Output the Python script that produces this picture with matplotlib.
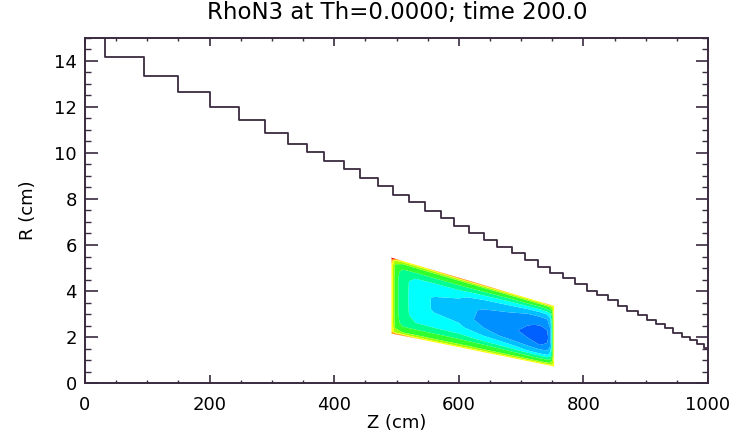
import numpy as np
import matplotlib
matplotlib.use("Agg")
import matplotlib.pyplot as plt
from matplotlib.ticker import MultipleLocator

# ---------------- data ----------------
title = "RhoN3 at Th=0.0000; time 200.0"
x_label = "Z (cm)"
y_label = "R (cm)"

# staircase boundary (step starts, R level after the step)
step_z = [0, 32, 95, 150, 201, 247, 289, 326, 357, 384, 415, 441, 470, 495, 520,
          546, 571, 592, 617, 641, 662, 685, 706, 727, 747, 767, 787, 805, 822,
          840, 856, 870, 887, 902, 917, 931, 944, 958, 971, 982, 994, 1000]
step_r = [15.6, 14.19, 13.36, 12.67, 11.98, 11.43, 10.86, 10.39, 10.03, 9.65, 9.29,
          8.93, 8.57, 8.19, 7.85, 7.48, 7.16, 6.83, 6.51, 6.22, 5.90, 5.64, 5.35,
          5.06, 4.77, 4.55, 4.29, 4.01, 3.83, 3.61, 3.35, 3.14, 2.96, 2.74, 2.57,
          2.38, 2.19, 2.01, 1.87, 1.70, 1.53, 1.53]

# band occupied by the RhoN3 field
band_z = [492, 753]
band_top = [5.45, 3.35]
band_bot = [2.15, 0.72]

# field samples: rows along Z, columns across the band (0 = bottom, 1 = top)
rho_z = [492, 498, 510, 530, 560, 600, 640, 680, 710, 730, 742, 747, 750, 753]
rho_t = [0.0, 0.03, 0.10, 0.17, 0.30, 0.45, 0.60, 0.75, 0.84, 0.91, 0.97, 1.0]
rho_vals = [
    [8.6, 7.9, 7.9, 7.9, 7.9, 7.9, 7.9, 7.9, 7.9, 7.9, 8.8, 9.6],
    [9.2, 6.5, 5.8, 5.5, 5.4, 5.4, 5.4, 5.4, 5.5, 5.8, 6.5, 9.3],
    [9.0, 6.2, 5.2, 4.6, 4.4, 4.4, 4.4, 4.4, 4.6, 5.2, 6.2, 8.0],
    [8.2, 6.2, 5.3, 4.2, 3.6, 3.5, 3.5, 3.6, 4.2, 5.3, 6.2, 7.9],
    [7.9, 6.2, 5.3, 4.2, 3.3, 2.9, 2.9, 3.4, 4.2, 5.3, 6.2, 8.3],
    [7.9, 6.2, 5.3, 4.2, 3.2, 2.6, 2.6, 3.2, 4.2, 5.3, 6.2, 9.2],
    [8.1, 6.2, 5.2, 3.9, 2.3, 1.6, 1.8, 2.6, 3.9, 5.2, 6.2, 9.0],
    [7.9, 6.2, 5.0, 3.5, 1.8, 1.3, 1.5, 2.3, 3.5, 5.0, 6.2, 8.2],
    [8.0, 6.2, 4.8, 3.0, 1.3, 0.7, 1.1, 2.0, 3.2, 4.9, 6.2, 8.0],
    [7.9, 6.2, 4.7, 2.8, 1.0, 0.4, 0.9, 1.9, 3.1, 4.8, 6.2, 8.0],
    [7.9, 6.2, 4.7, 2.9, 1.2, 0.7, 1.1, 2.0, 3.2, 4.9, 6.2, 8.8],
    [7.9, 6.3, 5.0, 3.6, 2.2, 1.8, 2.0, 2.7, 3.8, 5.1, 6.3, 8.2],
    [7.9, 6.7, 5.9, 5.3, 4.8, 4.6, 4.7, 5.0, 5.4, 5.9, 6.7, 7.9],
    [7.8, 7.8, 7.8, 7.8, 7.8, 7.8, 7.8, 7.8, 7.8, 7.8, 7.8, 7.8],
]
rho_levels = [0, 1, 2, 3, 4, 5, 6, 7, 8, 9, 10]
rho_colors = ["#0060ff", "#0090ff", "#00c0ff", "#00ffff", "#00ff90",
              "#30ff30", "#a0ff00", "#ffff00", "#ffa000", "#ff0000"]

x_ticks = [0, 200, 400, 600, 800, 1000]
y_ticks = [0, 2, 4, 6, 8, 10, 12, 14]

# ---------------- figure ----------------
ink = "#3a2a40"
fig = plt.figure(figsize=(7.40, 4.36), dpi=100)
ax = fig.add_axes([85 / 740, 1 - 383 / 436, (708 - 85) / 740, (383 - 38) / 436])

zz = np.asarray(rho_z, float)
tt = np.asarray(rho_t, float)
top = np.interp(zz, band_z, band_top)
bot = np.interp(zz, band_z, band_bot)
Zm = np.repeat(zz[:, None], len(tt), axis=1)
Rm = bot[:, None] + tt[None, :] * (top - bot)[:, None]
ax.contourf(Zm, Rm, np.asarray(rho_vals), levels=rho_levels, colors=rho_colors,
            antialiased=True)

ax.step(step_z, step_r, where="post", color=ink, lw=1.3, clip_on=True)

ax.set_xlim(0, 1000)
ax.set_ylim(0, 15)
ax.set_xticks(x_ticks)
ax.set_yticks(y_ticks)
ax.xaxis.set_minor_locator(MultipleLocator(50))
ax.yaxis.set_minor_locator(MultipleLocator(0.5))
ax.tick_params(axis="x", which="major", direction="in", length=5.5, width=1.2,
               top=True, bottom=True, color=ink, labelsize=13, pad=9)
ax.tick_params(axis="x", which="minor", direction="in", length=2.5, width=1.0,
               top=True, bottom=True, color=ink)
ax.tick_params(axis="y", which="major", direction="in", length=9, width=1.2,
               left=True, right=True, color=ink, labelsize=13, pad=6)
ax.tick_params(axis="y", which="minor", direction="in", length=4.5, width=1.0,
               left=True, right=True, color=ink)
for s in ax.spines.values():
    s.set_color(ink)
    s.set_linewidth(1.4)

ax.set_xlabel(x_label, fontsize=13, labelpad=0)
ax.set_ylabel(y_label, fontsize=13, labelpad=12)
fig.text(397 / 740, 1 - 12 / 436, title, fontsize=16.5, ha="center", va="center")

fig.savefig("out.png", dpi=100)
